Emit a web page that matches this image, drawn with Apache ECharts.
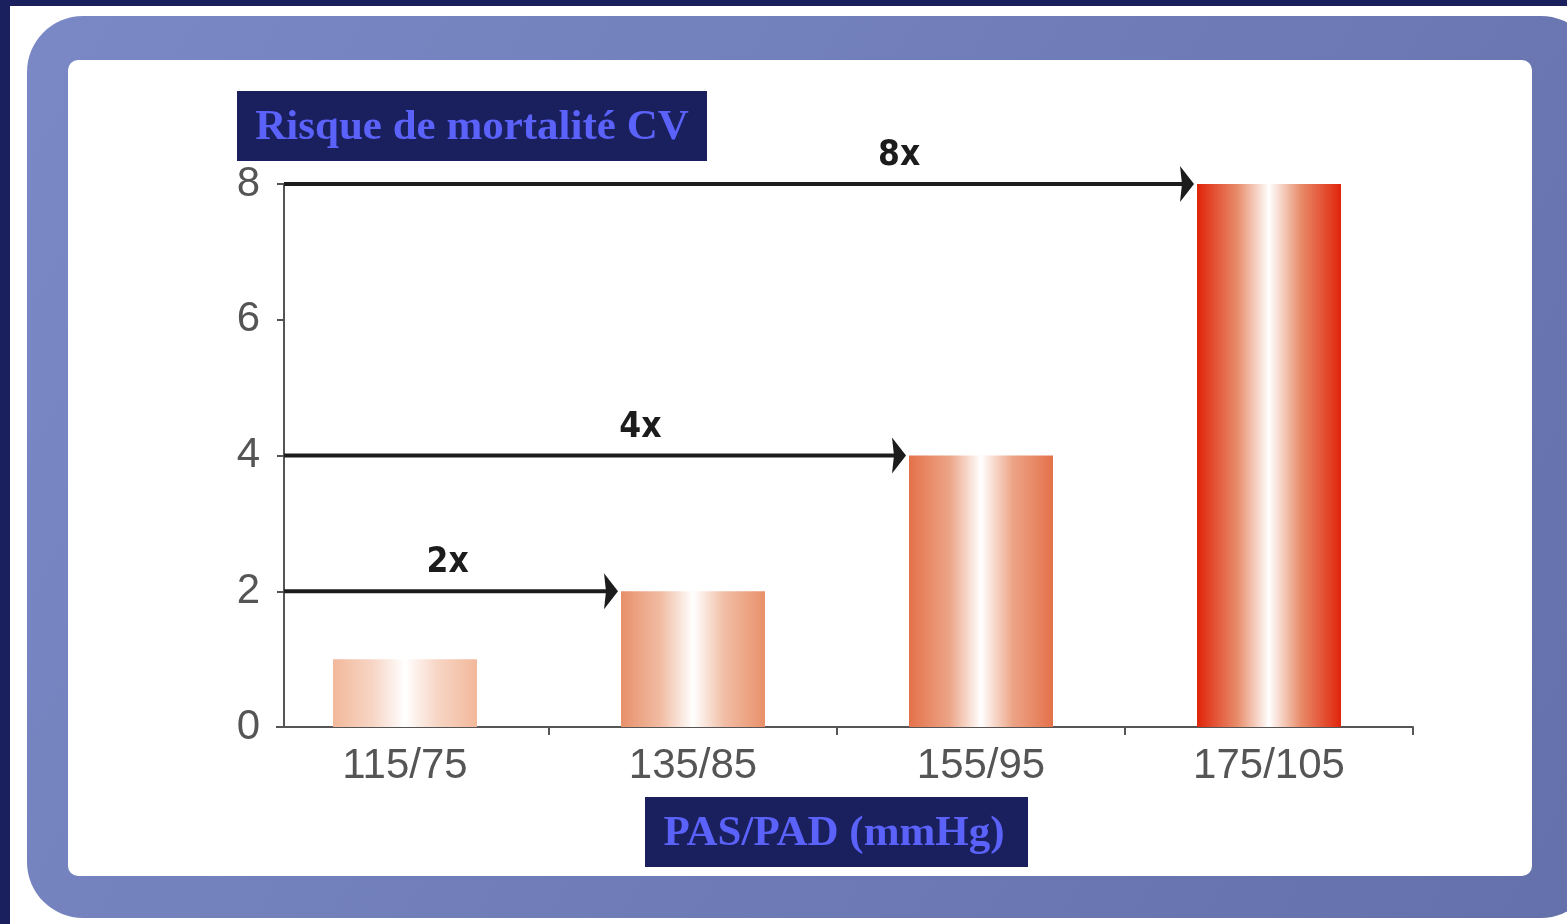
<!DOCTYPE html>
<html>
<head>
<meta charset="utf-8">
<script src="https://cdn.jsdelivr.net/npm/echarts@6/dist/echarts.min.js"></script>
<style>
  html, body { margin: 0; padding: 0; background: #1a1f5e; }
  #chart { width: 1567px; height: 924px; }
</style>
</head>
<body>
<div id="chart"></div>
<script>
// Blood pressure categories (PAS/PAD, mmHg) and relative CV mortality risk
const categories = ['115/75', '135/85', '155/95', '175/105'];
const riskValues = [1, 2, 4, 8];
const yTicks = [0, 2, 4, 6, 8];

// Risk multipliers shown as arrows from the axis to the bar they point at
const arrowValues = [2, 4, 8];
const arrowTargets = [1, 2, 3];
const arrowLabels = ['2x', '4x', '8x'];

// Styling (kept apart from the data)
const barEdge = ['#f2b89a', '#e8906a', '#e4714a', '#e0240a'];
const barMid = ['#f7d6c6', '#f1bda4', '#eca486', '#e88c6a'];
const arrowLabelAt = [0.49, 0.573, 0.676];   // fraction along each arrow
const AXIS_SHIFT = 23;                        // y axis sits inside the first band
const NAVY = '#1a1f5e';
const TITLE_BLUE = '#5b62fa';
const tickFont = '"Liberation Sans", "DejaVu Sans", sans-serif';

const chart = echarts.init(document.getElementById('chart'), null, { renderer: 'canvas' });

const barData = riskValues.map((v, i) => ({
  value: v,
  itemStyle: {
    color: new echarts.graphic.LinearGradient(0, 0, 1, 0, [
      { offset: 0, color: barEdge[i] },
      { offset: 0.28, color: barMid[i] },
      { offset: 0.5, color: '#ffffff' },
      { offset: 0.72, color: barMid[i] },
      { offset: 1, color: barEdge[i] }
    ])
  }
}));

const arrowData = arrowValues.map((v, i) => [arrowTargets[i], v, i]);

function renderArrow(params, api) {
  const target = api.value(0);
  const value = api.value(1);
  const idx = api.value(2);
  const p = api.coord([target, value]);
  const band = api.size([1, 0])[0];
  const y = p[1];
  const tipX = p[0] - band * 0.25 - 3;
  const startX = params.coordSys.x + AXIS_SHIFT;
  const headW = 14, headH = 18;
  const labelX = startX + (tipX - startX) * arrowLabelAt[idx];
  return {
    type: 'group',
    children: [
      {
        type: 'line',
        shape: { x1: startX, y1: y, x2: tipX - headW + 2, y2: y },
        style: { stroke: '#1c1c1c', lineWidth: 4 }
      },
      {
        type: 'polygon',
        shape: { points: [[tipX, y], [tipX - headW, y - headH], [tipX - headW + 2, y], [tipX - headW, y + headH]] },
        style: { fill: '#1c1c1c' }
      },
      {
        type: 'text',
        x: labelX,
        y: y - 28,
        style: {
          text: arrowLabels[idx],
          font: 'bold 35px "DejaVu Sans Condensed", "Liberation Sans Narrow", sans-serif',
          fill: '#1c1c1c',
          align: 'center',
          verticalAlign: 'middle'
        }
      }
    ]
  };
}

const option = {
  backgroundColor: NAVY,
  animation: false,
  graphic: [
    // white page behind the frame
    { type: 'rect', z: -10, shape: { x: 10, y: 6, width: 1557, height: 918 }, style: { fill: '#ffffff' } },
    // rounded blue frame
    {
      type: 'rect', z: -9,
      shape: { x: 27, y: 16, width: 1570, height: 902, r: 56 },
      style: {
        fill: new echarts.graphic.LinearGradient(0, 0, 1, 1, [
          { offset: 0, color: '#7a89c6' },
          { offset: 1, color: '#6470aa' }
        ])
      }
    },
    // inner white panel
    { type: 'rect', z: -8, shape: { x: 68, y: 60, width: 1464, height: 816, r: 10 }, style: { fill: '#ffffff' } },
    // keep the baseline starting at the y axis
    { type: 'rect', z: 50, shape: { x: 259, y: 724, width: 17, height: 14 }, style: { fill: '#ffffff' } },
    // axis title boxes
    { type: 'rect', z: 100, shape: { x: 237, y: 91, width: 470, height: 70 }, style: { fill: NAVY } },
    {
      type: 'text', z: 101, x: 472, y: 128,
      style: {
        text: 'Risque de mortalité CV',
        font: 'bold 43px "Liberation Serif", "DejaVu Serif", serif',
        fill: TITLE_BLUE, align: 'center', verticalAlign: 'middle'
      }
    },
    { type: 'rect', z: 100, shape: { x: 645, y: 797, width: 383, height: 70 }, style: { fill: NAVY } },
    {
      type: 'text', z: 101, x: 834, y: 834,
      style: {
        text: 'PAS/PAD (mmHg)',
        font: 'bold 43px "Liberation Serif", "DejaVu Serif", serif',
        fill: TITLE_BLUE, align: 'center', verticalAlign: 'middle'
      }
    }
  ],
  grid: { left: 261, right: 154, top: 184, bottom: 197, containLabel: false },
  xAxis: {
    type: 'category',
    data: categories,
    boundaryGap: true,
    axisLine: { lineStyle: { color: '#555', width: 2 } },
    axisTick: { show: true, length: 8, interval: 0, lineStyle: { color: '#555', width: 2 } },
    axisLabel: { color: '#555', fontSize: 42, fontFamily: tickFont, margin: 18 }
  },
  yAxis: {
    type: 'value',
    min: yTicks[0],
    max: yTicks[yTicks.length - 1],
    interval: yTicks[1] - yTicks[0],
    offset: -AXIS_SHIFT,
    splitLine: { show: false },
    axisLine: { show: true, lineStyle: { color: '#555', width: 2 } },
    axisTick: { show: true, length: 7, lineStyle: { color: '#555', width: 2 } },
    axisLabel: { color: '#555', fontSize: 42, fontFamily: tickFont, margin: 24 }
  },
  series: [
    {
      type: 'bar',
      data: barData,
      barWidth: '50%',
      z: 2
    },
    {
      type: 'custom',
      data: arrowData,
      renderItem: renderArrow,
      encode: { x: 0, y: 1 },
      z: 5,
      silent: true
    }
  ]
};

chart.setOption(option);
</script>
</body>
</html>
